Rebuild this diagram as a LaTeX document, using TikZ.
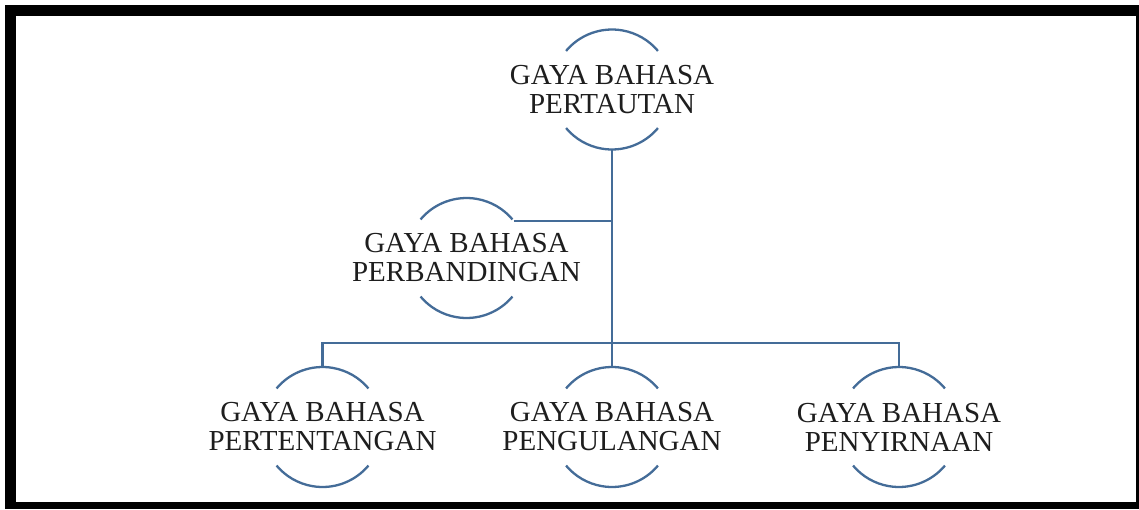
\documentclass[tikz,border=0pt]{standalone}
\usepackage{fontspec}
\setmainfont{Liberation Serif}
\definecolor{linkblue}{RGB}{68,108,152}
\definecolor{txtgray}{RGB}{30,30,30}
\begin{document}
\begin{tikzpicture}[x=1pt,y=-1pt,
  hub/.style={circle,minimum size=120pt,inner sep=0pt,outer sep=0pt},
  lbl/.style={align=center,font=\fontsize{29}{29}\selectfont,text=txtgray,inner sep=0pt},
  arcline/.style={draw=linkblue,line width=2.3pt},
  link/.style={draw=linkblue,line width=2.6pt}]
\useasboundingbox (0,0) rectangle (1139,509);
\fill[black] (5,5) rectangle (1139,509);
\fill[white] (16,16) rectangle (1136,502);
% circle holders
\node[hub] (a) at (612,89.5) {};
\node[hub] (b) at (466.5,258) {};
\node[hub] (c) at (322.5,427) {};
\node[hub] (d) at (612,427) {};
\node[hub] (e) at (899,427) {};
% arcs (y axis points down: 220..320 is the upper arc)
\foreach \n in {a,b,c,d,e}{
  \draw[arcline] ([shift={(220:60)}]\n.center) arc (220:320:60);
  \draw[arcline] ([shift={(40:60)}]\n.center) arc (40:140:60);
}
% labels
\node[lbl] (ta) at (a) {GAYA BAHASA\\PERTAUTAN};
\node[lbl] (tb) at (b) {GAYA BAHASA\\PERBANDINGAN};
\node[lbl] (tc) at (c) {GAYA BAHASA\\PERTENTANGAN};
\node[lbl] (td) at (d) {GAYA BAHASA\\PENGULANGAN};
\node[lbl] (te) at (e) {GAYA BAHASA\\PENYIRNAAN};
% connectors
\coordinate (bar) at (612,343);
\draw[link] (a.south) -- (d.north);
\draw[link] (b.38) -- (b.38 -| a.south);
\draw[link] (c.north) |- (bar) -| (e.north);
\end{tikzpicture}
\end{document}
